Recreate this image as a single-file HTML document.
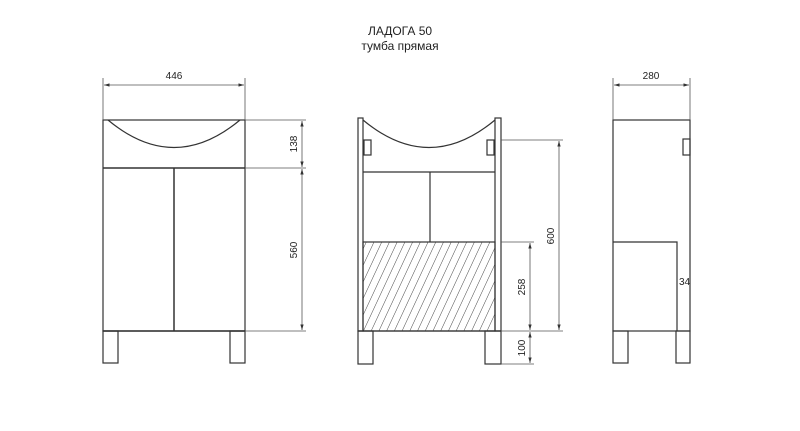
<!DOCTYPE html>
<html><head><style>body{margin:0;background:#fff}svg{display:block}text{font-family:"Liberation Sans",sans-serif;fill:#222}</style></head><body>
<svg width="800" height="431" viewBox="0 0 800 431" xmlns="http://www.w3.org/2000/svg">
<defs>
<marker id="a" viewBox="0 0 10 10" refX="10" refY="5" markerWidth="7" markerHeight="7" orient="auto-start-reverse"><path d="M0,2 L10,5 L0,8 z" fill="#333"/></marker>
<pattern id="h" width="7" height="7" patternUnits="userSpaceOnUse" patternTransform="rotate(25)"><line x1="0" y1="0" x2="0" y2="7" stroke="#333" stroke-width="0.9"/></pattern>
</defs>
<text x="400" y="35" font-size="12" text-anchor="middle">ЛАДОГА 50</text>
<text x="400" y="50" font-size="12" text-anchor="middle">тумба прямая</text>
<g fill="none" stroke="#333" stroke-width="1.2">
<!-- left view -->
<rect x="103" y="120" width="142" height="211"/>
<line x1="103" y1="168" x2="245" y2="168" stroke-width="1.5"/>
<line x1="174" y1="168" x2="174" y2="331" stroke-width="1.5"/>
<line x1="103" y1="331" x2="245" y2="331" stroke-width="1.5"/>
<path d="M108,120 Q174,175 240,120"/>
<rect x="103" y="331" width="15" height="32"/>
<rect x="230" y="331" width="15" height="32"/>
<!-- mid view -->
<rect x="358" y="118" width="5" height="213"/>
<rect x="495" y="118" width="6" height="213"/>
<path d="M363,120 Q429,175 495,120"/>
<rect x="364" y="140" width="7" height="15"/>
<rect x="487" y="140" width="7" height="15"/>
<line x1="363" y1="172" x2="495" y2="172"/>
<line x1="430" y1="172" x2="430" y2="242"/>
<rect x="363" y="242" width="132" height="89" fill="url(#h)"/>
<line x1="358" y1="331" x2="501" y2="331"/>
<rect x="358" y="331" width="15" height="33"/>
<rect x="485" y="331" width="16" height="33"/>
<!-- right view -->
<rect x="613" y="120" width="77" height="211"/>
<rect x="683" y="139" width="7" height="16"/>
<polyline points="613,242 677,242 677,331"/>
<rect x="613" y="331" width="15" height="32"/>
<rect x="676" y="331" width="14" height="32"/>
</g>
<g fill="none" stroke="#555" stroke-width="0.8">
<line x1="103" y1="78" x2="103" y2="120"/><line x1="245" y1="78" x2="245" y2="120"/>
<line x1="104" y1="85" x2="244" y2="85" marker-start="url(#a)" marker-end="url(#a)"/>
<line x1="245" y1="120" x2="306" y2="120"/><line x1="245" y1="168" x2="306" y2="168"/><line x1="245" y1="331" x2="306" y2="331"/>
<line x1="302" y1="121" x2="302" y2="167" marker-start="url(#a)" marker-end="url(#a)"/>
<line x1="302" y1="169" x2="302" y2="330" marker-start="url(#a)" marker-end="url(#a)"/>
<line x1="501" y1="140" x2="563" y2="140"/><line x1="501" y1="242" x2="534" y2="242"/><line x1="501" y1="331" x2="563" y2="331"/><line x1="501" y1="364" x2="534" y2="364"/>
<line x1="559" y1="141" x2="559" y2="330" marker-start="url(#a)" marker-end="url(#a)"/>
<line x1="530" y1="243" x2="530" y2="330" marker-start="url(#a)" marker-end="url(#a)"/>
<line x1="530" y1="332" x2="530" y2="363" marker-start="url(#a)" marker-end="url(#a)"/>
<line x1="613" y1="78" x2="613" y2="120"/><line x1="690" y1="78" x2="690" y2="120"/>
<line x1="614" y1="85" x2="689" y2="85" marker-start="url(#a)" marker-end="url(#a)"/>
</g>
<g font-size="10">
<text x="174" y="79" text-anchor="middle">446</text>
<text x="651" y="79" text-anchor="middle">280</text>
<text transform="translate(297,144) rotate(-90)" text-anchor="middle">138</text>
<text transform="translate(297,250) rotate(-90)" text-anchor="middle">560</text>
<text transform="translate(554,236) rotate(-90)" text-anchor="middle">600</text>
<text transform="translate(525,287) rotate(-90)" text-anchor="middle">258</text>
<text transform="translate(525,348) rotate(-90)" text-anchor="middle">100</text>
<text x="679" y="285">34</text>
</g>
</svg>
</body></html>
